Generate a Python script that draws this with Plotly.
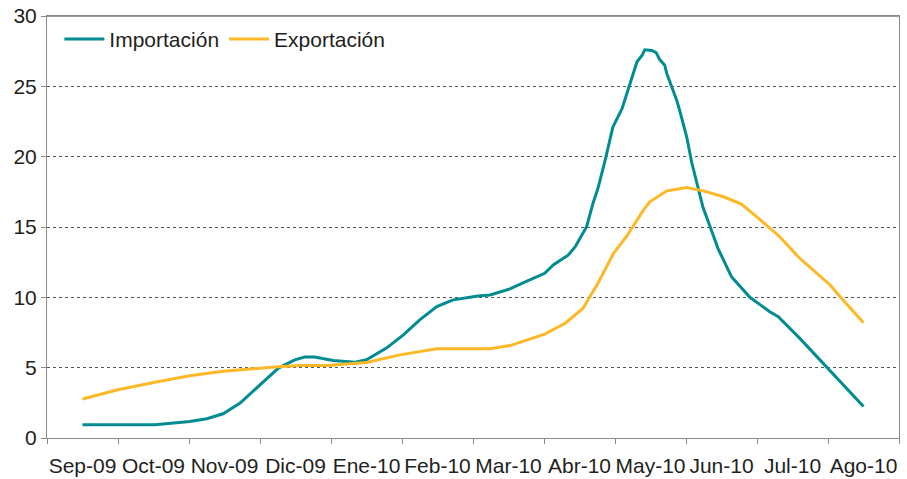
import plotly.graph_objects as go

# Month labels on the horizontal axis
months = ["Sep-09", "Oct-09", "Nov-09", "Dic-09", "Ene-10", "Feb-10",
          "Mar-10", "Abr-10", "May-10", "Jun-10", "Jul-10", "Ago-10"]

# Importación: position in months since Sep-09 and value
imp_t = [0.00, 1.02, 1.51, 1.75, 1.98, 2.22, 2.50, 2.76, 2.99, 3.13, 3.27,
         3.53, 3.84, 4.00, 4.28, 4.52, 4.75, 4.99, 5.22, 5.57, 5.74, 6.02,
         6.26, 6.51, 6.63, 6.84, 6.94, 7.10, 7.19, 7.26, 7.36, 7.47, 7.60,
         7.71, 7.75, 7.81, 7.88, 7.92, 8.02, 8.08, 8.13, 8.20, 8.23, 8.37,
         8.41, 8.51, 8.58, 8.65, 8.74, 8.84, 8.95, 9.14, 9.26, 9.40, 9.68,
         9.80, 10.10, 10.48, 11.00]
imp_v = [0.95, 0.95, 1.18, 1.37, 1.72, 2.48, 3.78, 4.97, 5.56, 5.75, 5.75,
         5.51, 5.39, 5.56, 6.39, 7.33, 8.40, 9.34, 9.82, 10.10, 10.17, 10.60,
         11.16, 11.71, 12.30, 13.00, 13.60, 15.02, 16.68, 17.75, 19.72, 22.10, 23.42,
         25.20, 25.90, 26.75, 27.20, 27.60, 27.55, 27.40, 26.90, 26.50, 25.90, 24.00,
         23.30, 21.40, 19.60, 18.10, 16.38, 15.02, 13.48, 11.47, 10.76, 10.00, 8.98,
         8.63, 7.10, 5.08, 2.24]

# Exportación
exp_t = [0.00, 0.50, 1.02, 1.51, 1.98, 2.31, 2.76, 3.06, 3.44, 4.00, 4.47,
         4.99, 5.74, 6.02, 6.51, 6.80, 7.05, 7.26, 7.48, 7.66, 7.90, 7.99,
         8.23, 8.51, 8.74, 9.03, 9.28, 9.54, 9.82, 10.10, 10.53, 10.69, 11.00]
exp_v = [2.77, 3.43, 3.97, 4.42, 4.75, 4.90, 5.06, 5.15, 5.15, 5.37, 5.91,
         6.34, 6.34, 6.57, 7.38, 8.16, 9.23, 11.00, 13.13, 14.31, 16.20, 16.79,
         17.57, 17.81, 17.57, 17.15, 16.63, 15.54, 14.31, 12.78, 10.88, 9.94, 8.20]

y_ticks = [0, 5, 10, 15, 20, 25, 30]

TEAL = "#008C91"
GOLD = "#FDB827"
TEXT = "#231F20"
AXIS = "#8A8A8A"
FONT = "Liberation Sans, Arial, sans-serif"

fig = go.Figure()
fig.add_trace(go.Scatter(x=imp_t, y=imp_v, mode="lines", name="Importación",
                         line=dict(color=TEAL, width=3)))
fig.add_trace(go.Scatter(x=exp_t, y=exp_v, mode="lines", name="Exportación",
                         line=dict(color=GOLD, width=3)))

n = len(months)
fig.update_xaxes(
    range=[-0.5, n - 0.5],
    automargin=False,
    tickmode="array",
    tickvals=list(range(n)),
    ticktext=months,
    ticks="",
    ticklabelstandoff=9,
    showgrid=False,
    zeroline=False,
    showline=True, linecolor=AXIS, linewidth=1, mirror=True,
    tickfont=dict(family=FONT, size=21, color=TEXT),
    minor=dict(tickmode="array", tickvals=[i - 0.5 for i in range(n + 1)],
               ticks="outside", ticklen=5, tickcolor=AXIS, tickwidth=1,
               showgrid=False),
)
fig.update_yaxes(
    range=[0, 30],
    automargin=False,
    tickmode="array",
    tickvals=y_ticks,
    ticks="outside", ticklen=5, tickcolor=AXIS, tickwidth=1,
    showgrid=True, gridcolor="#555555", gridwidth=1, griddash="3px,3px",
    zeroline=False,
    showline=True, linecolor=AXIS, linewidth=1, mirror=True,
    tickfont=dict(family=FONT, size=21, color=TEXT),
)

# solid frame line along the top of the plotting area
fig.add_shape(type="line", xref="paper", yref="y", x0=0, x1=1, y0=30, y1=30,
              line=dict(color="#333333", width=1.2))

fig.update_layout(
    width=907, height=479,
    margin=dict(l=47, r=8, t=16, b=41),
    paper_bgcolor="white", plot_bgcolor="white",
    showlegend=True,
    legend=dict(orientation="h", x=0.0145, y=0.993, xanchor="left", yanchor="top",
                font=dict(family=FONT, size=21, color=TEXT),
                bgcolor="rgba(0,0,0,0)", itemwidth=40, tracegroupgap=0),
)

fig.write_html("out.html")
